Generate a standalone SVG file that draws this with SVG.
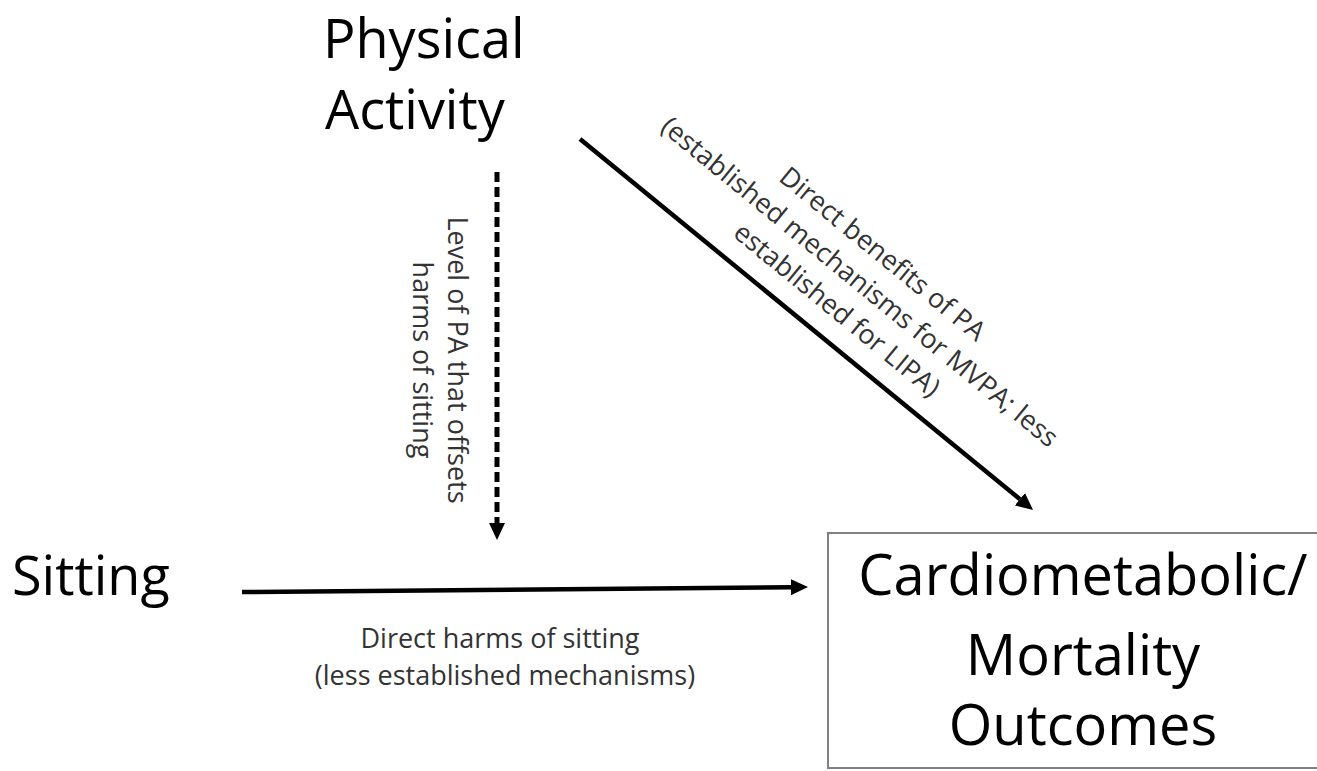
<svg xmlns="http://www.w3.org/2000/svg" width="1317" height="771" viewBox="0 0 1317 771">
  <style>
    .big { font-family: "Open Sans", "Liberation Sans", sans-serif; font-size: 54px; fill: #000; }
    .out { font-family: "Open Sans", "Liberation Sans", sans-serif; font-size: 56px; fill: #000; text-anchor: middle; }
    .lbl { font-family: "Open Sans", "Liberation Sans", sans-serif; font-size: 27px; fill: #333; text-anchor: middle; }
    .conn { stroke: #000; stroke-width: 4.5; fill: none; }
    .dash { stroke-width: 5; stroke-dasharray: 10 5; }
  </style>
  <defs>
    <marker id="ah" markerUnits="userSpaceOnUse" markerWidth="17" markerHeight="16" refX="0" refY="8" orient="auto" viewBox="0 0 17 16">
      <path d="M0,0 L17,8 L0,16 z" fill="#000"/>
    </marker>
  </defs>
  <rect width="1317" height="771" fill="#fff"/>

  <g id="node-physical-activity">
    <text class="big" x="323" y="58">Physical</text>
    <text class="big" x="325" y="129">Activity</text>
  </g>

  <g id="node-sitting">
    <text class="big" x="12" y="595">Sitting</text>
  </g>

  <g id="node-outcomes">
    <rect x="828" y="533" width="500" height="235" fill="none" stroke="#808080" stroke-width="2"/>
    <text class="out" x="1083" y="595">Cardiometabolic/</text>
    <text class="out" x="1083" y="675">Mortality</text>
    <text class="out" x="1083" y="745">Outcomes</text>
  </g>

  <g id="connectors">
    <line class="conn" x1="242" y1="592" x2="791" y2="587.2" marker-end="url(#ah)"/>
    <line class="conn dash" x1="497" y1="172" x2="497" y2="523" marker-end="url(#ah)"/>
    <line class="conn" x1="580" y1="139" x2="1019.9" y2="499.2" marker-end="url(#ah)"/>
  </g>

  <g id="labels">
    <text class="lbl" x="500" y="648">Direct harms of sitting</text>
    <text class="lbl" x="505" y="685">(less established mechanisms)</text>
    <g transform="translate(448,360) rotate(90)">
      <text class="lbl" x="0" y="0">Level of PA that offsets</text>
      <text class="lbl" x="0" y="35">harms of sitting</text>
    </g>
    <g transform="translate(854,289) rotate(39.3)">
      <text class="lbl" x="0" y="-36">Direct benefits of PA</text>
      <text class="lbl" x="0" y="0">(established mechanisms for MVPA; less</text>
      <text class="lbl" x="0" y="36">established for LIPA)</text>
    </g>
  </g>
</svg>
